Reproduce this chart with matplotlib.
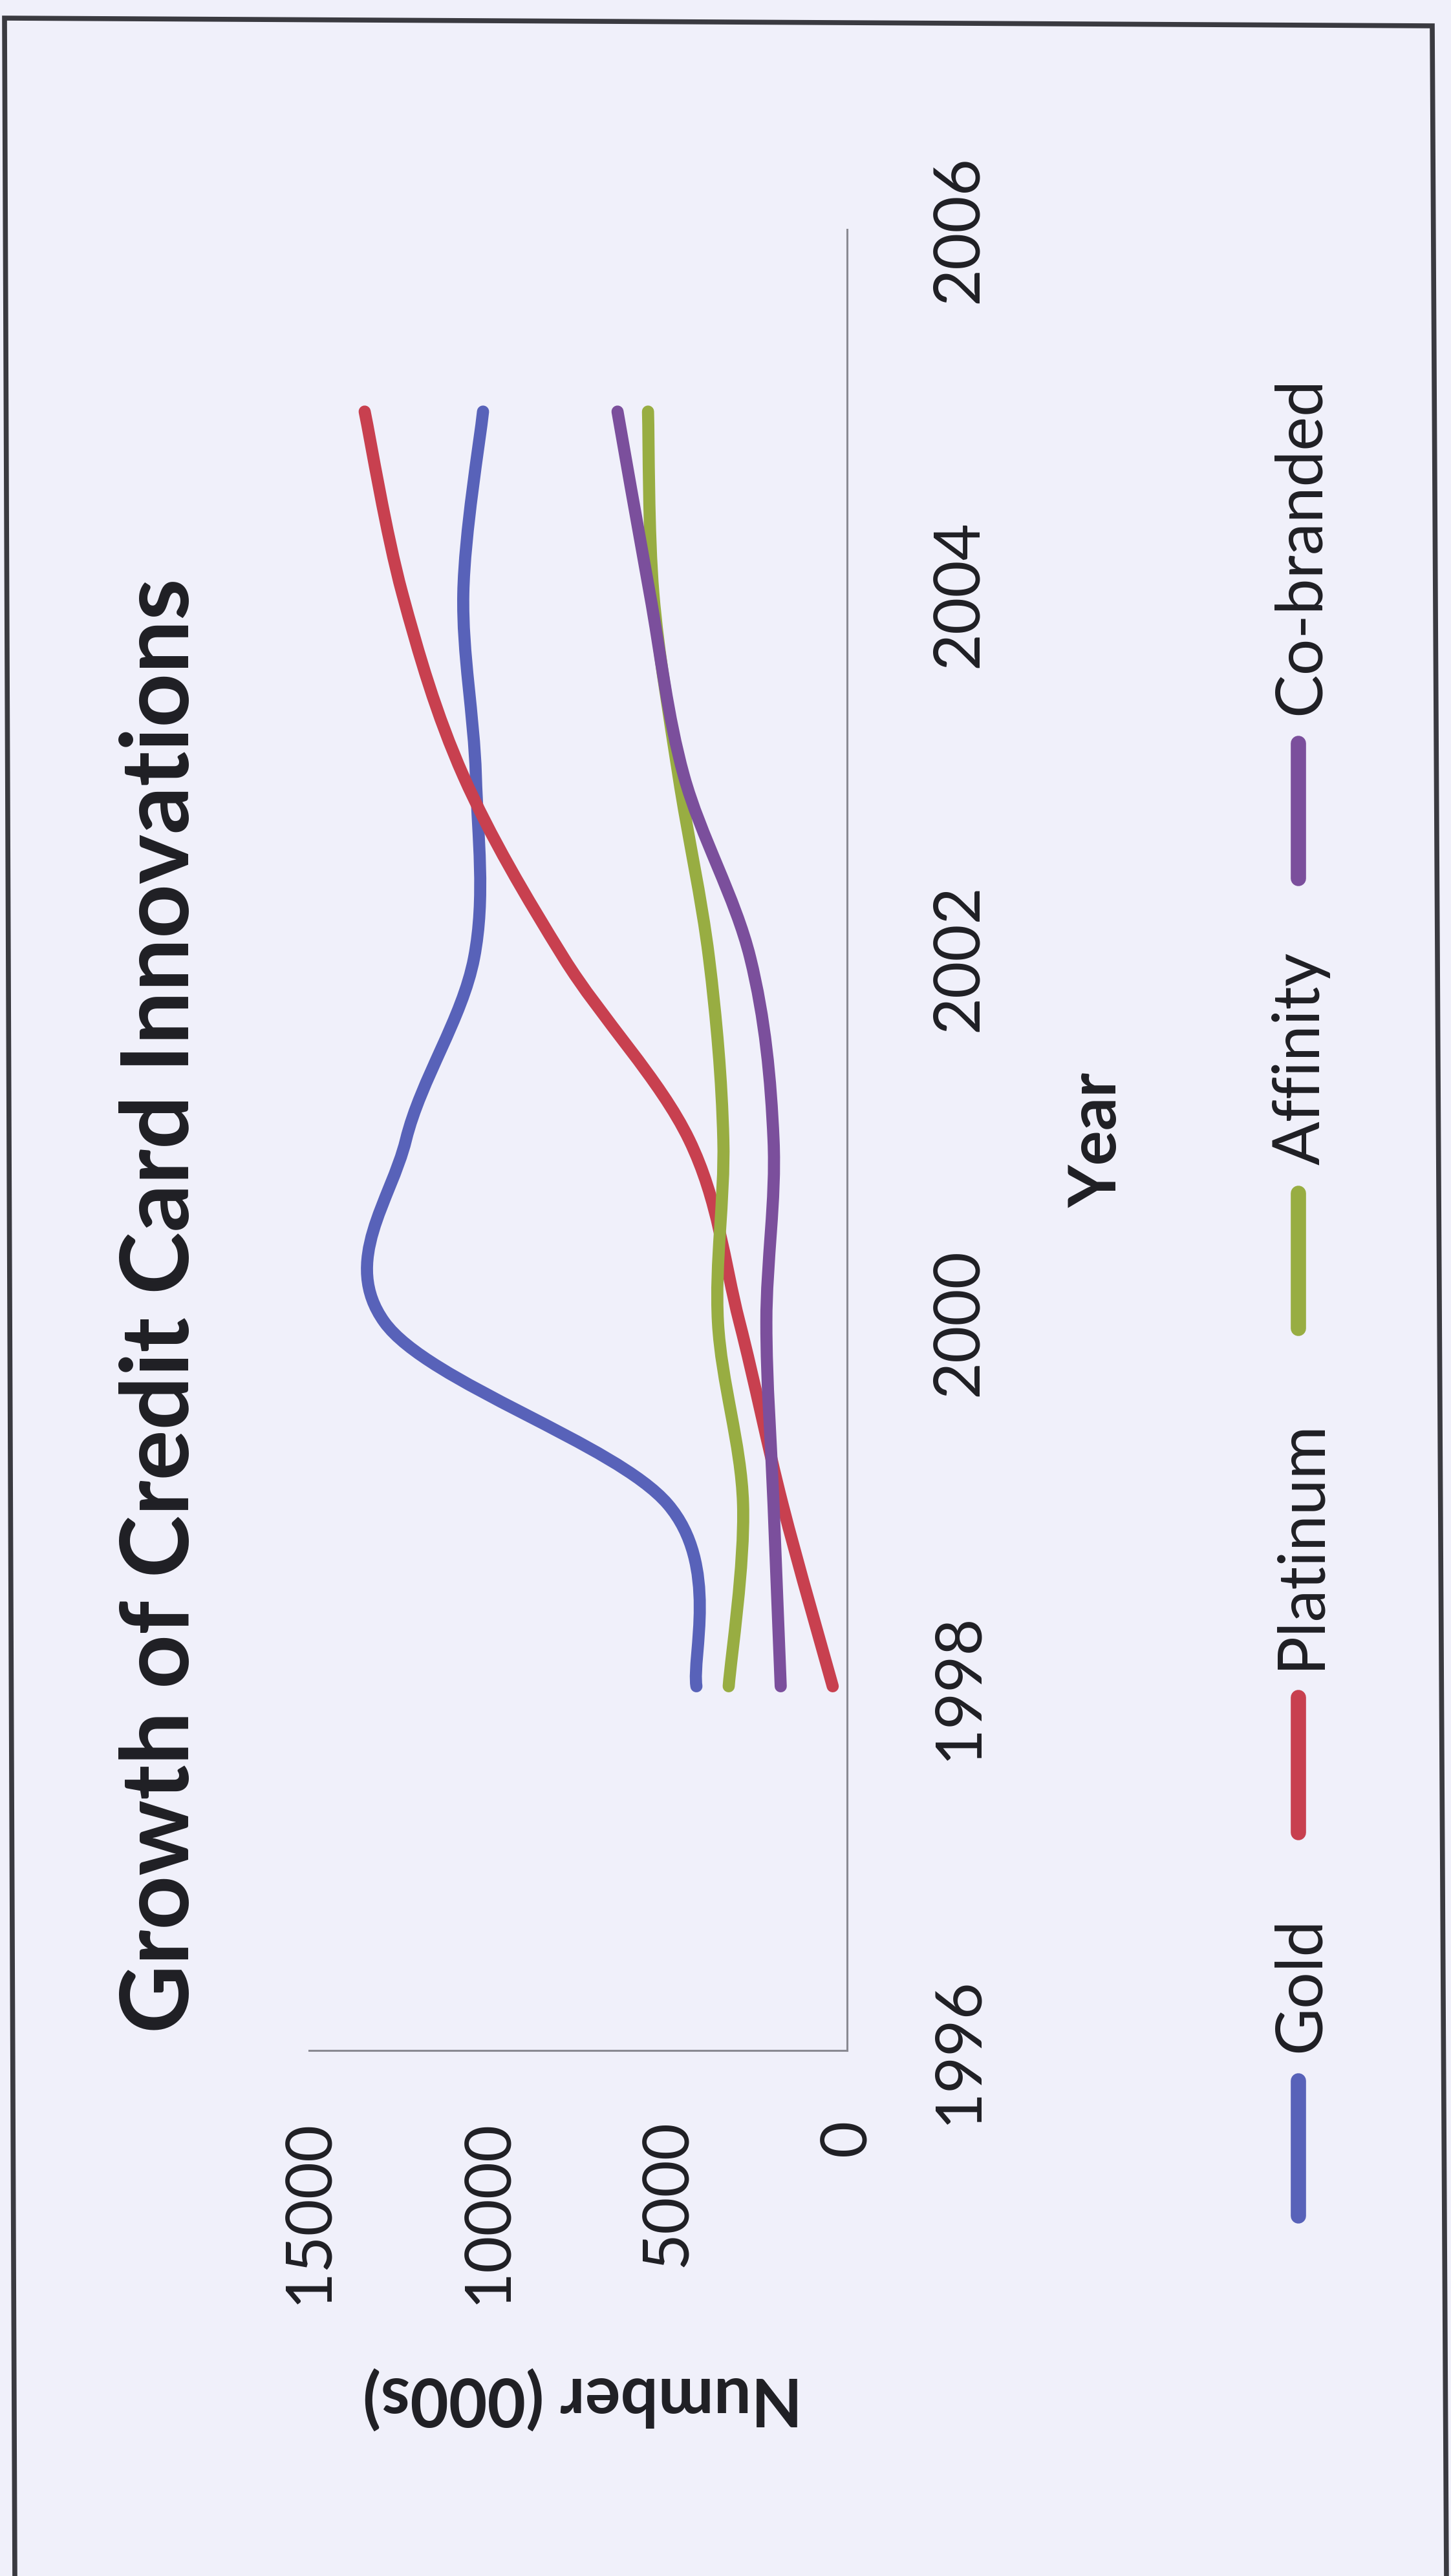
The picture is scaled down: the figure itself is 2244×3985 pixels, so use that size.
import numpy as np
import matplotlib.pyplot as plt
from matplotlib.path import Path
from matplotlib.patches import PathPatch
from matplotlib.lines import Line2D

plt.rcParams['font.family'] = ['Lato', 'DejaVu Sans']

# card counts in thousands, one value per year
years = [1998, 1999, 2000, 2001, 2002, 2003, 2004, 2005]
gold = [4200, 5000, 12900, 12300, 10400, 10350, 10700, 10150]
platinum = [400, 1800, 3000, 4400, 7900, 10700, 12400, 13450]
affinity = [3300, 2900, 3600, 3450, 3850, 4700, 5400, 5550]
co_branded = [1850, 2050, 2250, 2050, 2700, 4550, 5500, 6400]

series_names = ['Gold', 'Platinum', 'Affinity', 'Co-branded']
series_colors = ['#5862b9', '#c8404f', '#98ad42', '#7b4f9c']

year_ticks = [1996, 1998, 2000, 2002, 2004, 2006]
value_ticks = [0, 5000, 10000, 15000]

W, H = 2244, 3985
BG = '#f0f0fa'
INK = '#1f1f24'


def fx(px):
    return px / W


def fy(py):
    return 1 - py / H


def smooth_path(xs, ys):
    # bezier through every point, tangents taken from the neighbours
    pts = np.column_stack([xs, ys]).astype(float)
    n = len(pts)
    tang = np.zeros_like(pts)
    for i in range(n):
        a = pts[max(i - 1, 0)]
        b = pts[min(i + 1, n - 1)]
        tang[i] = (b - a) / 2
    verts = [pts[0]]
    codes = [Path.MOVETO]
    for i in range(n - 1):
        verts += [pts[i] + tang[i] / 3, pts[i + 1] - tang[i + 1] / 3, pts[i + 1]]
        codes += [Path.CURVE4] * 3
    return Path(verts, codes)


fig = plt.figure(figsize=(W / 100, H / 100), dpi=100)
fig.patch.set_facecolor(BG)

# chart frame, slightly skewed like a scanned page
frame = np.array([(23, 3990), (7, 28), (2215, 40), (2237, 3990)], dtype=float)
fig.add_artist(Line2D(fx(frame[:, 0]), fy(frame[:, 1]), transform=fig.transFigure,
                      color='#3a3a40', lw=5.5, solid_joinstyle='miter'))

ax = fig.add_axes([fx(478), fy(3172), (1310 - 478) / W, (3172 - 355) / H])
ax.set_facecolor('none')
ax.set_xlim(15000, 0)
ax.set_ylim(1996, 2006)

for vals, color in zip([gold, platinum, affinity, co_branded], series_colors):
    patch = PathPatch(smooth_path(vals, years), fill=False, edgecolor=color,
                      lw=13.5, capstyle='round', joinstyle='round')
    ax.add_patch(patch)

for side in ['top', 'left']:
    ax.spines[side].set_visible(False)
for side in ['right', 'bottom']:
    ax.spines[side].set_color('#8a8a92')
    ax.spines[side].set_linewidth(2.2)

ax.yaxis.tick_right()
ax.set_yticks(year_ticks)
ax.set_yticklabels([str(y) for y in year_ticks], rotation=90, va='center')
ax.set_xticks(value_ticks)
ax.set_xticklabels([str(v) for v in value_ticks], rotation=90)
ax.tick_params(axis='y', length=0, pad=92, labelsize=71, labelcolor=INK)
ax.tick_params(axis='x', length=0, pad=76, labelsize=71, labelcolor=INK)

fig.text(fx(250), fy(2020), 'Growth of Credit Card Innovations', rotation=90,
         ha='center', va='center', fontsize=105, fontweight='bold', color=INK)
fig.text(fx(1698), fy(1763), 'Year', rotation=90, ha='center', va='center',
         fontsize=73, fontweight='bold', color=INK)
fig.text(fx(901), fy(3710), 'Number (000s)', rotation=180, ha='center', va='center',
         fontsize=74, fontweight='bold', color=INK)

# legend along the right edge, reading bottom to top
dash_bottoms = [3436, 2843, 2063, 1367]
dash_len = 225
for name, color, yb in zip(series_names, series_colors, dash_bottoms):
    yt = yb - dash_len
    fig.add_artist(Line2D([fx(2008), fx(2008)], [fy(yb - 8), fy(yt + 8)],
                          transform=fig.transFigure, color=color, lw=17,
                          solid_capstyle='round'))
    fig.text(fx(2012), fy(yt - 36), name, rotation=90, ha='center', va='bottom',
             fontsize=72, color=INK)

fig.savefig('out.png', dpi=100, facecolor=BG)
